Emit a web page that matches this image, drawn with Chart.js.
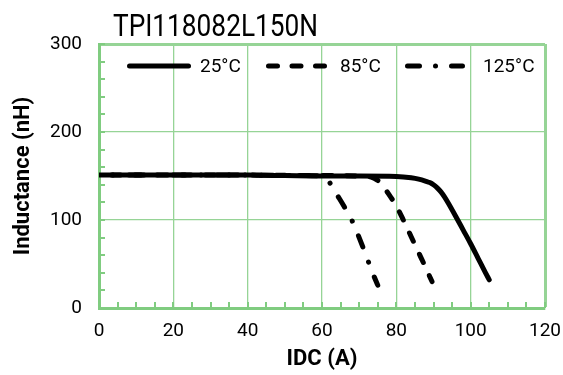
<!DOCTYPE html>
<html>
<head>
<meta charset="utf-8">
<script src="https://cdn.jsdelivr.net/npm/chart.js@4.4.1/dist/chart.umd.min.js"></script>
<style>
  html, body { margin: 0; padding: 0; background: #ffffff; }
  #wrap { width: 563px; height: 375px; }
</style>
</head>
<body>
<div id="wrap"><canvas id="c" width="563" height="375"></canvas></div>
<script>
// ---- data ----
const chartTitle = "TPI118082L150N";
const xAxisTitle = "IDC (A)";
const yAxisTitle = "Inductance (nH)";
const seriesLabels = ["25°C", "85°C", "125°C"];

const idc25 = [0, 20, 40, 50, 60, 70, 80, 84, 86, 88, 89, 90, 91, 92, 93, 94, 96, 98, 100, 102, 104, 105];
const ind25 = [151, 151, 151, 150.5, 150, 150, 149.5, 148, 146.5, 144, 142.5, 140, 136.5, 132, 126, 119, 104, 88.5, 73, 56.5, 40, 32];

const idc85 = [0, 20, 40, 60, 70, 73, 75, 76, 78, 80, 82, 84, 86, 88, 89.6];
const ind85 = [151, 151, 151, 150.5, 150, 149, 145, 141, 129, 116, 99, 81, 63, 45, 30];

const idc125 = [0, 20, 40, 55, 60, 61, 62, 63, 64, 66, 68, 70, 72, 74, 75];
const ind125 = [151, 151, 151, 150.5, 150, 148, 143, 136, 129, 115, 100, 80, 58, 36, 26];

const xTicks = [0, 20, 40, 60, 80, 100, 120];
const yTicks = [0, 100, 200, 300];
const xMinorStep = 5;
const yMinorStep = 20;

// ---- styling ----
const GRID = '#96d496';
const FRAME = '#80cc80';
const FONT = 'Roboto';
const dashStyles = [[], [9, 14.5], [12, 16, 0.01, 16]];
const dashOffsets = [0, 11, 14];

function pts(xs, ys) { return xs.map((x, i) => ({ x: x, y: ys[i] })); }

const datasets = [
  { label: seriesLabels[0], data: pts(idc25, ind25) },
  { label: seriesLabels[1], data: pts(idc85, ind85) },
  { label: seriesLabels[2], data: pts(idc125, ind125) }
].map((d, i) => Object.assign(d, {
  borderColor: '#000000',
  backgroundColor: '#000000',
  borderWidth: 5,
  borderDash: dashStyles[i],
  borderDashOffset: dashOffsets[i],
  borderCapStyle: 'round',
  borderJoinStyle: 'round',
  pointRadius: 0,
  fill: false,
  cubicInterpolationMode: 'monotone'
}));

// minor ticks (inside) + title + legend
const extras = {
  id: 'extras',
  beforeDatasetsDraw(chart) {
    const ctx = chart.ctx;
    const xs = chart.scales.x, ys = chart.scales.y;
    const a = chart.chartArea;
    ctx.save();
    ctx.strokeStyle = FRAME;
    ctx.lineWidth = 2;
    ctx.beginPath();
    for (let v = xs.min; v <= xs.max; v += xMinorStep) {
      const px = Math.round(xs.getPixelForValue(v));
      ctx.moveTo(px, a.bottom);
      ctx.lineTo(px, a.bottom - 6);
    }
    for (let v = ys.min; v <= ys.max; v += yMinorStep) {
      const py = Math.round(ys.getPixelForValue(v));
      ctx.moveTo(a.left, py);
      ctx.lineTo(a.left + 6, py);
    }
    ctx.stroke();
    ctx.restore();
  },
  afterDraw(chart) {
    const ctx = chart.ctx;
    ctx.save();
    // title (condensed look)
    ctx.fillStyle = '#000';
    ctx.font = '400 32px ' + FONT;
    ctx.textBaseline = 'alphabetic';
    const w = ctx.measureText(chartTitle).width;
    const sx = 205 / w;
    ctx.translate(113, 36);
    ctx.scale(sx, 1);
    ctx.fillText(chartTitle, 0, 0);
    ctx.restore();

    // legend
    const lx = [[127, 191, 200], [266, 330, 340], [405, 465, 483]];
    const ly = 66;
    ctx.save();
    chart.data.datasets.forEach((ds, i) => {
      ctx.strokeStyle = ds.borderColor;
      ctx.lineWidth = ds.borderWidth;
      ctx.lineCap = 'round';
      ctx.setLineDash(ds.borderDash || []);
      ctx.lineDashOffset = 0;
      ctx.beginPath();
      ctx.moveTo(lx[i][0] + 2.5, ly);
      ctx.lineTo(lx[i][1] - 2.5, ly);
      ctx.stroke();
      ctx.setLineDash([]);
      ctx.fillStyle = '#000';
      ctx.font = '400 19px ' + FONT;
      ctx.textBaseline = 'middle';
      ctx.fillText(ds.label, lx[i][2], ly + 1);
    });
    ctx.restore();
  }
};

new Chart(document.getElementById('c'), {
  type: 'line',
  data: { datasets: datasets },
  plugins: [extras],
  options: {
    responsive: false,
    animation: false,
    devicePixelRatio: 1,
    layout: { padding: { top: 44, right: 18, left: 0, bottom: 0 } },
    plugins: {
      legend: { display: false },
      title: { display: false },
      tooltip: { enabled: false }
    },
    scales: {
      x: {
        type: 'linear',
        min: xTicks[0],
        max: xTicks[xTicks.length - 1],
        afterFit(s) { s.height = 67; },
        afterBuildTicks(s) { s.ticks = xTicks.map(v => ({ value: v })); },
        ticks: { color: '#000', font: { family: FONT, size: 19 }, padding: 0, maxRotation: 0 },
        grid: {
          color: GRID,
          lineWidth: c => (c.tick && c.tick.value === xTicks[xTicks.length - 1]) ? 3 : 1.3,
          drawTicks: true,
          tickLength: 12,
          tickColor: 'rgba(0,0,0,0)'
        },
        border: { display: true, color: FRAME, width: 3 },
        title: {
          display: true, text: xAxisTitle, color: '#000',
          font: { family: FONT, size: 22, weight: 'bold' },
          padding: { top: 0, bottom: 2 }
        }
      },
      y: {
        type: 'linear',
        min: yTicks[0],
        max: yTicks[yTicks.length - 1],
        afterFit(s) { s.width = 99; },
        afterBuildTicks(s) { s.ticks = yTicks.map(v => ({ value: v })); },
        ticks: { color: '#000', font: { family: FONT, size: 19 }, padding: 17 },
        grid: {
          color: GRID,
          lineWidth: c => (c.tick && c.tick.value === yTicks[yTicks.length - 1]) ? 3 : 1.3,
          drawTicks: false
        },
        border: { display: true, color: FRAME, width: 3 },
        title: {
          display: true, text: yAxisTitle, color: '#000',
          font: { family: FONT, size: 22, weight: 'bold' },
          padding: { top: 10, bottom: 0 }
        }
      }
    }
  }
});
</script>
</body>
</html>
